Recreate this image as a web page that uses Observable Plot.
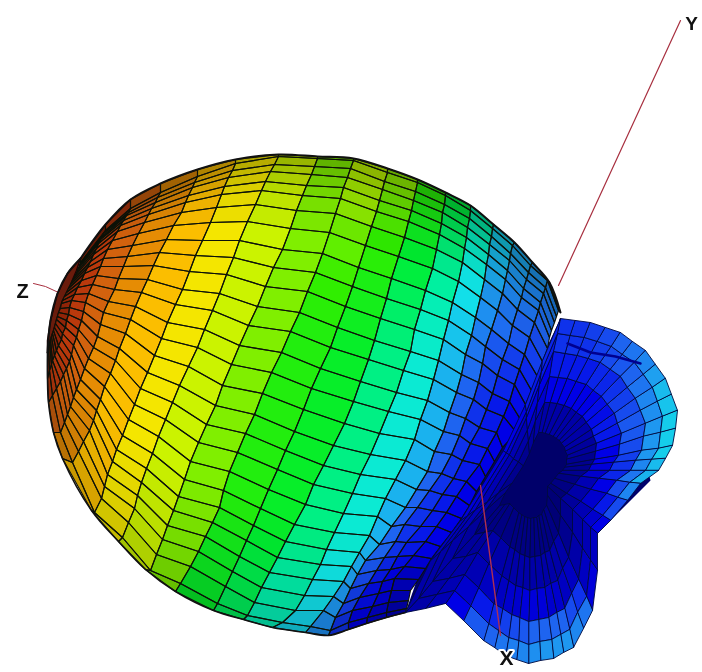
<!DOCTYPE html>
<html><head><meta charset="utf-8">
<script src="https://cdn.jsdelivr.net/npm/d3@7"></script>
<script src="https://cdn.jsdelivr.net/npm/@observablehq/plot@0.6"></script>
<style>html,body{margin:0;padding:0;background:#fff}svg{display:block;filter:blur(.45px)}</style>
</head><body><div id="chart"></div>
<script>
const ring01x=[80,79,79,78,77,76,74,72,70,68,66,64,62,61,60,58,57,56,55,54,53,52,51,50,49,48];
const ring01y=[262,264,265,267,269,272,276,280,284,288,292,296,300,303,308,312,316,319,323,327,330,333,336,339,342,345];
const ring02x=[105,103,102,100,98,96,93,90,87,84,81,77,74,71,69,68,66,65,62,61,58,56,54,52,51,49];
const ring02y=[230,233,236,239,243,248,254,261,267,273,280,287,294,300,307,314,320,327,333,339,345,350,355,360,364,370];
const ring03x=[130,128,126,123,120,117,112,107,103,100,96,92,88,85,83,81,78,76,73,71,69,66,63,60,56,52];
const ring03y=[208,212,215,220,225,231,240,249,258,266,275,284,293,302,311,320,329,337,345,354,361,368,374,381,388,395];
const ring04x=[160,157,155,151,148,144,138,132,127,123,118,114,108,103,100,97,93,88,84,80,76,73,70,67,64,60];
const ring04y=[192,197,202,208,214,222,233,245,256,266,278,289,301,312,324,336,347,358,368,379,389,397,406,414,422,432];
const ring05x=[197,194,192,188,185,181,173,166,159,153,147,141,135,130,125,119,115,110,104,100,96,93,89,83,78,72];
const ring05y=[176,182,187,195,202,212,225,239,252,265,279,292,306,319,333,348,360,373,386,399,410,420,430,441,451,462];
const ring06x=[235,232,228,224,221,216,210,202,195,189,182,175,167,161,154,147,140,134,128,122,116,112,107,104,101,94];
const ring06y=[163,170,177,186,194,207,222,240,255,271,289,304,322,338,355,372,388,404,419,435,449,461,474,486,498,512];
const ring07x=[278,274,270,265,261,255,247,239,233,226,219,212,204,197,188,179,172,165,158,152,146,141,137,134,128,122];
const ring07y=[156,164,171,181,190,204,221,240,257,274,293,310,329,347,366,385,402,419,436,453,468,482,495,508,522,537];
const ring08x=[317,314,311,306,302,296,290,282,273,265,257,248,239,231,222,215,206,198,190,184,178,173,167,162,156,150];
const ring08y=[158,166,174,185,195,210,228,249,267,286,306,325,345,364,385,405,424,442,461,479,496,510,525,539,554,570];
const ring09x=[353,350,347,343,340,335,329,322,315,307,299,290,281,271,262,254,245,237,229,223,219,212,205,198,190,180];
const ring09y=[160,168,177,187,198,213,232,253,272,291,312,331,352,372,393,414,433,452,471,490,507,522,536,551,566,583];
const ring10x=[387,384,382,379,376,371,365,358,352,345,337,330,320,311,303,294,285,277,268,260,253,246,239,232,225,217];
const ring10y=[172,181,189,200,211,226,245,267,286,306,327,347,368,388,409,431,450,469,489,508,525,540,556,571,586,603];
const ring11x=[417,415,413,411,408,404,398,391,386,380,374,368,360,353,344,333,323,313,305,294,285,277,269,261,254,247];
const ring11y=[182,191,200,210,221,237,256,278,298,318,340,359,381,401,423,445,465,484,504,524,541,557,572,587,602,615];
const ring12x=[445,444,442,441,439,436,432,425,420,414,410,403,396,388,379,370,360,352,343,334,326,320,312,304,295,282];
const ring12y=[195,204,212,223,234,249,268,290,309,329,351,370,392,411,433,454,474,493,513,532,549,564,579,595,610,622];
const ring13x=[470,469,467,466,464,462,458,452,448,443,438,433,427,420,414,405,395,385,377,369,359,351,343,333,323,310];
const ring13y=[210,218,227,237,248,262,281,302,320,339,360,379,400,419,439,460,479,498,516,535,552,566,581,596,610,626];
const ring14x=[492,491,489,488,486,484,480,475,471,465,461,456,449,443,434,427,416,405,391,379,365,357,350,343,335,330];
const ring14y=[228,236,244,254,264,279,297,317,335,354,374,392,412,431,451,471,489,507,526,544,560,574,588,603,617,630];
const ring15x=[512,510,509,507,505,502,497,491,485,482,478,473,465,459,451,441,429,417,404,395,384,376,368,359,352,348];
const ring15y=[245,253,260,270,279,293,310,329,346,363,382,399,418,435,454,473,490,507,524,541,557,570,583,597,610,622];
const ring16x=[530,528,526,523,521,517,512,508,502,497,492,486,479,470,462,453,442,432,420,406,397,390,382,378,372,367];
const ring16y=[265,272,279,288,297,309,325,343,359,375,393,409,427,443,460,478,494,510,526,542,556,569,581,593,606,617];
const ring17x=[547,545,543,540,538,534,529,524,519,514,509,503,496,487,479,466,456,446,436,425,413,404,394,391,388,386];
const ring17y=[280,287,293,302,310,322,337,354,369,384,401,416,432,448,464,481,496,512,526,541,555,566,578,590,602,612];
const ring18x=[558,556,554,551,549,547,542,537,531,525,520,516,502,494,485,476,469,461,451,440,431,425,418,410,408,406];
const ring18y=[310,316,322,330,337,348,361,376,390,404,419,432,447,461,476,491,505,518,532,546,558,568,579,590,600,608];
// Where each ring meets the outline, top and bottom
const rimTopX=[80,105,130,160,197,235,278,317,353,387,417,445,470,493,514,532,549,560];
const rimTopY=[258,224,199,183,169,159,154,156,158,168,179,192,205,224,242,262,282,312];
const rimBottomX=[47,47,48,53,62,91,118,145,175,213,243,272,305,328,348,366,386,405];
const rimBottomY=[352,378,402,432,458,510,541,569,591,610,619,627,632,635,629,623,617,612];
const bandLevels=[.97,.93,.88,.84,.79,.73,.67,.6,.53,.49,.42,.35,.27,.18,.14,.12,.1];
const rowLift=[.12,.12,.11,.1,.09,.08,.06,.05,.03,.02,.01,0,0,0,0,0,0,0,0,0,0,-.01,-.02,-.03,-.03,-.04,-.04];
const rowShade=[.3,.25,.2,.15,.1,.06,.03,0,0,0,0,0,0,0,0,0,0,0,0,0,.02,.04,.06,.08,.1,.14,.2];
const bandShade=[.3,.2,.12,.06,0,0,0,0,0,0,0,0,0,0,0,0,0];

// Back lobes: spokes out from the dark centre to the outline (x,y for six rings)
const spokeA=[[538,432],[544,402],[549,376],[553,351],[557,333],[560,318]];
const spokeB=[[542,432],[550,402],[558,377],[565,353],[570,335],[575,320]];
const spokeC=[[545,433],[557,403],[567,378],[577,355],[584,337],[590,322]];
const spokeD=[[549,434],[564,405],[576,381],[588,358],[597,341],[605,327]];
const spokeE=[[553,436],[571,408],[586,384],[600,362],[611,346],[620,332]];
const spokeF=[[556,438],[576,412],[593,390],[610,369],[622,354],[632,341]];
const spokeG=[[559,440],[582,416],[601,396],[620,376],[634,362],[645,350]];
const spokeH=[[561,443],[586,422],[607,404],[627,387],[643,374],[655,364]];
const spokeI=[[564,447],[591,429],[614,413],[635,398],[652,387],[665,378]];
const spokeJ=[[565,451],[593,436],[617,423],[640,410],[657,401],[671,394]];
const spokeK=[[567,455],[596,443],[621,433],[645,423],[662,416],[677,410]];
const spokeL=[[566,459],[595,451],[619,444],[643,436],[660,432],[675,428]];
const spokeM=[[566,464],[594,459],[618,455],[641,450],[658,448],[672,445]];
const spokeN=[[564,467],[591,464],[613,462],[635,460],[651,459],[665,458]];
const spokeO=[[562,470],[588,470],[609,470],[630,470],[645,470],[658,470]];
const spokeP=[[558,473],[580,476],[598,478],[616,480],[629,482],[640,483]];
const spokeQ=[[554,478],[574,484],[590,489],[606,493],[617,497],[627,500]];
const spokeR=[[550,483],[566,493],[580,501],[592,509],[602,515],[610,520]];
const spokeS=[[547,486],[560,498],[572,509],[582,519],[590,527],[597,533]];
const spokeT=[[547,495],[560,515],[572,532],[582,548],[590,560],[597,570]];
const spokeU=[[546,505],[558,533],[568,557],[578,579],[586,596],[592,610]];
const spokeV=[[543,509],[553,541],[562,568],[571,593],[577,612],[583,628]];
const spokeW=[[541,514],[549,550],[557,580],[564,608],[569,629],[573,647]];
const spokeX=[[538,515],[544,552],[550,583],[556,612],[560,634],[563,652]];
const spokeY=[[536,517],[540,555],[544,587],[548,617],[551,639],[553,658]];
const spokeZ=[[533,517],[534,556],[536,588],[538,619],[539,641],[540,660]];
const spokeAA=[[530,518],[529,557],[529,590],[528,621],[528,644],[528,663]];
const spokeAB=[[527,517],[524,555],[522,587],[519,617],[518,640],[516,659]];
const spokeAC=[[524,516],[519,553],[515,585],[511,614],[508,637],[505,655]];
const spokeAD=[[521,514],[514,549],[508,580],[502,608],[498,630],[494,647]];
const spokeAE=[[518,512],[509,546],[501,575],[493,603],[488,623],[483,640]];
const spokeAF=[[513,507],[500,537],[488,563],[478,587],[470,605],[463,620]];
const spokeAG=[[509,503],[492,530],[477,552],[464,574],[454,590],[445,603]];
const spokeAH=[[504,504],[483,532],[465,556],[448,578],[436,594],[425,608]];
const spokeAI=[[499,505],[474,534],[452,558],[432,581],[418,598],[405,612]];
const spokeAJ=[[505,492],[485,510],[468,526],[452,540],[440,551],[430,560]];
const spokeAK=[[512,482],[498,492],[487,501],[475,509],[467,515],[460,520]];
const spokeAL=[[523,465],[518,461],[513,458],[509,454],[506,452],[503,450]];
const spokeAM=[[529,453],[528,440],[527,429],[526,417],[526,411],[525,404]];
const spokeAN=[[533,442],[535,420],[537,402],[539,384],[541,371],[542,360]];
const spokeLevels=[
[.05,.1,.12,.14,.14],[.05,.1,.12,.14,.14],[.05,.1,.12,.14,.15],[.05,.1,.12,.15,.16],[.05,.1,.13,.16,.18],[.05,.1,.13,.17,.2],[.05,.11,.14,.18,.22],[.05,.11,.15,.2,.25],
[.05,.12,.16,.22,.28],[.04,.12,.17,.23,.29],[.04,.11,.17,.24,.3],[.03,.1,.16,.24,.3],[.03,.1,.15,.24,.3],[.03,.09,.14,.22,.28],[.03,.08,.13,.2,.27],
[.02,.06,.1,.16,.22],[.02,.05,.08,.12,.16],[.01,.04,.06,.08,.1],[.01,.03,.05,.06,.07],
[.01,.03,.05,.07,.09],[.02,.05,.07,.14,.2],[.02,.05,.07,.16,.22],[.02,.05,.08,.18,.24],[.02,.05,.08,.18,.24],[.02,.05,.09,.18,.24],[.02,.05,.09,.18,.23],
[.02,.05,.09,.17,.22],[.02,.05,.08,.16,.21],[.02,.05,.08,.15,.2],[.02,.05,.07,.13,.18],[.02,.05,.07,.12,.17],[.02,.05,.06,.08,.1],
[.02,.04,.05,.06,.06],[.02,.04,.05,.05,.05],[.02,.04,.05,.05,.05],[.03,.05,.06,.06,.07],
[.03,.05,.06,.08,.09],[.03,.05,.06,.08,.1],[.04,.07,.09,.11,.12],[.05,.08,.1,.12,.13]];

// Pole cap, lobe core and fold
const capX=[80,67,57,50,47,47,48,53,57,62,70,76];
const capY=[258,273,293,320,340,352,345,330,316,300,284,270];
const coreX=[560,600,640,650,600,560,520,445,405,425,470,510,540];
const coreY=[318,420,440,480,530,570,590,603,612,555,500,430,360];
const foldX=[567,590,615,640];
const foldY=[343,352,356,363];
const outlineTopX=[47,50,57,67,80];
const outlineTopY=[352,320,293,273,258];

// Axes
const axisYx=[558,680],axisYy=[285,20];
const axisZx=[58,45,33],axisZy=[292,286,283];
const axisXx=[480,500],axisXy=[485,635];
const axisLabels=[{t:"Y",x:691,y:23,s:19},{t:"Z",x:22,y:291,s:20},{t:"X",x:506,y:658,s:21}];

const levelStops=[0,.1,.18,.25,.33,.40,.48,.55,.62,.70,.75,.82,.88,.94,1];
const levelColors=["#00006a","#0000e6","#1e64f0","#1ea0f0","#10e8e8","#00f0a0","#00ee30","#30ee00","#a0f000","#e4f400","#ffdc00","#f8a800","#f07010","#e84010","#b82808"];

const rings=[[ring01x,ring01y],[ring02x,ring02y],[ring03x,ring03y],[ring04x,ring04y],[ring05x,ring05y],[ring06x,ring06y],[ring07x,ring07y],[ring08x,ring08y],[ring09x,ring09y],[ring10x,ring10y],[ring11x,ring11y],[ring12x,ring12y],[ring13x,ring13y],[ring14x,ring14y],[ring15x,ring15y],[ring16x,ring16y],[ring17x,ring17y],[ring18x,ring18y]]
  .map(([xs,ys],i)=>[[rimTopX[i],...xs,rimBottomX[i]],[rimTopY[i],...ys,rimBottomY[i]]]);
const spokes=[spokeA,spokeB,spokeC,spokeD,spokeE,spokeF,spokeG,spokeH,spokeI,spokeJ,spokeK,spokeL,spokeM,spokeN,spokeO,spokeP,spokeQ,spokeR,spokeS,spokeT,spokeU,spokeV,spokeW,spokeX,spokeY,spokeZ,spokeAA,spokeAB,spokeAC,spokeAD,spokeAE,spokeAF,spokeAG,spokeAH,spokeAI,spokeAJ,spokeAK,spokeAL,spokeAM,spokeAN];

const mainCells=[];
for(let b=0;b<rings.length-1;b++)for(let r=0;r<rowShade.length;r++){
  const id=`m${b}-${r}`,[ax,ay]=rings[b],[cx,cy]=rings[b+1];
  const level=Math.max(0,bandLevels[b]+(b>=8?rowLift[r]:0));
  const shade=1-(1-rowShade[r])*(1-bandShade[b]);
  [[ax[r],ay[r]],[cx[r],cy[r]],[cx[r+1],cy[r+1]],[ax[r+1],ay[r+1]]].forEach(([x,y])=>mainCells.push({id,x,y,level,shade}));
}
const lobeCells=[];
for(let s=0;s<spokes.length;s++){
  const a=spokes[s],c=spokes[(s+1)%spokes.length];
  for(let r=0;r<5;r++){
    const id=`l${s}-${r}`;
    [a[r],c[r],c[r+1],a[r+1]].forEach(([x,y])=>lobeCells.push({id,x,y,level:spokeLevels[s][r]}));
  }
}
const path=(xs,ys)=>xs.map((x,i)=>({x,y:ys[i]}));

const chart=Plot.plot({
  width:702,height:672,margin:0,
  style:{background:"#fff"},
  x:{domain:[0,702],axis:null},
  y:{domain:[0,672],reverse:true,axis:null},
  color:{type:"linear",domain:levelStops,range:levelColors,interpolate:"rgb"},
  marks:[
    Plot.line(path(axisYx,axisYy),{x:"x",y:"y",stroke:"#a83040",strokeWidth:1.2}),
    Plot.line(path(axisZx,axisZy),{x:"x",y:"y",stroke:"#a83040",strokeWidth:1}),
    Plot.line(path(capX,capY),{x:"x",y:"y",curve:"linear-closed",fill:"#6a1c0c",stroke:"#200"}),
    Plot.line(path(coreX,coreY),{x:"x",y:"y",curve:"linear-closed",fill:"#00006a",stroke:"none"}),
    Plot.line(mainCells,{x:"x",y:"y",z:"id",fill:"level",stroke:"none",curve:"linear-closed"}),
    Plot.line(mainCells,{x:"x",y:"y",z:"id",fill:"#000",fillOpacity:"shade",stroke:"#0c1208",strokeWidth:1.1,curve:"linear-closed"}),
    Plot.line(path(rimTopX,rimTopY),{x:"x",y:"y",stroke:"#111",strokeWidth:2,curve:"catmull-rom"}),
    Plot.line(path(outlineTopX,outlineTopY),{x:"x",y:"y",stroke:"#111",strokeWidth:2,curve:"catmull-rom"}),
    Plot.line(path(rimBottomX,rimBottomY),{x:"x",y:"y",stroke:"#111",strokeWidth:1.6,curve:"catmull-rom"}),
    Plot.line(lobeCells,{x:"x",y:"y",z:"id",fill:"level",stroke:"#000a40",strokeWidth:.9,curve:"linear-closed"}),
    Plot.line(path(foldX,foldY),{x:"x",y:"y",stroke:"#000090",strokeWidth:2.5}),
    Plot.line(path(axisXx,axisXy),{x:"x",y:"y",stroke:"#b03050",strokeWidth:1.4}),
    Plot.text(axisLabels,{x:"x",y:"y",text:"t",fontSize:"s",fontFamily:"Liberation Sans",fontWeight:"bold",fill:"#111",stroke:"#fff",strokeWidth:4,paintOrder:"stroke"})
  ]
});
document.getElementById("chart").append(chart);
</script></body></html>
